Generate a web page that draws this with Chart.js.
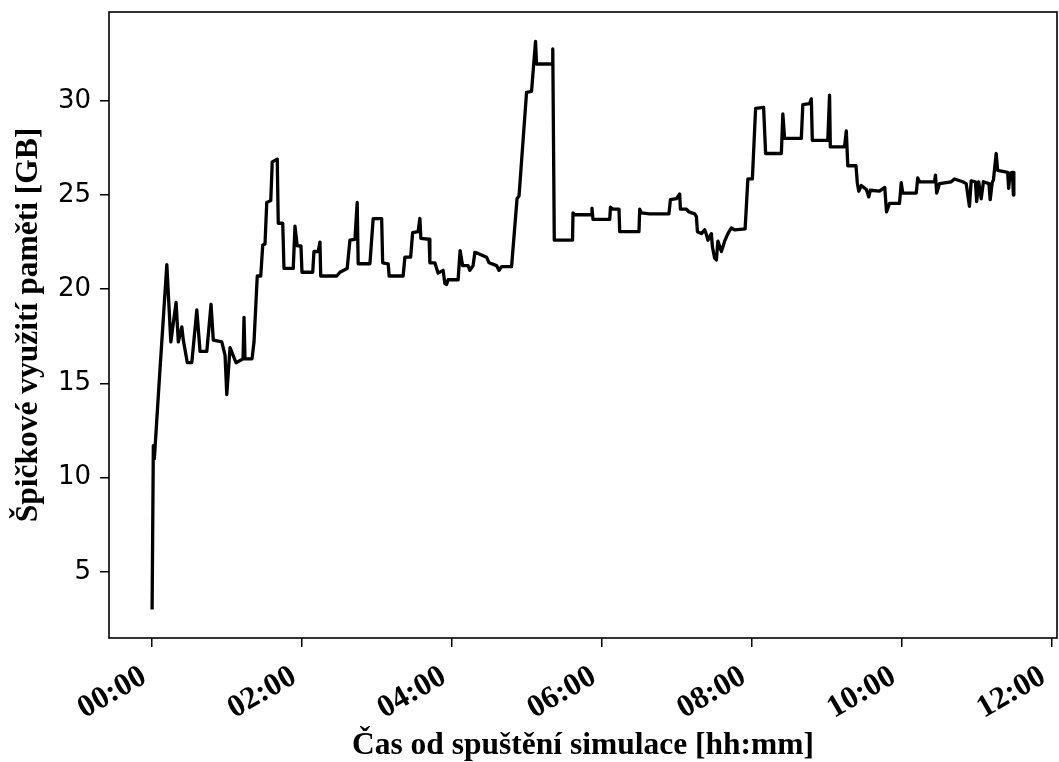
<!DOCTYPE html>
<html>
<head>
<meta charset="utf-8">
<script src="https://cdn.jsdelivr.net/npm/chart.js@4"></script>
<style>
    html, body { margin: 0; padding: 0; background: #fff; }
    #wrap { width: 1059px; height: 762px; }
</style>
</head>
<body>
<div id="wrap"><canvas id="mem-chart" width="1059" height="762"></canvas></div>
<script>
// time since simulation start [min]
const timeMin = [
    0, 1.0, 1.8, 3.8, 5.8, 11.8, 15.0, 19.2, 21.0, 23.8,
    25.0, 28.2, 31.8, 35.8, 38.4, 43.8, 47.2, 49.0, 55.8, 58.4,
    59.8, 62.4, 67.2, 72.8, 73.6, 74.4, 80.0, 81.6, 84.2, 87.0,
    88.6, 90.4, 91.8, 95.0, 96.2, 100.2, 101.0, 104.6, 105.6, 113.0,
    114.4, 116.2, 119.2, 120.0, 128.6, 129.6, 133.0, 134.4, 135.0, 147.8,
    150.4, 156.2, 158.4, 162.4, 164.2, 165.0, 174.4, 177.0, 183.8, 184.6,
    189.0, 189.8, 201.0, 202.4, 207.0, 208.6, 213.0, 214.4, 215.2, 221.8,
    222.4, 226.4, 227.8, 229.0, 233.0, 234.4, 235.8, 237.0, 245.0, 246.6,
    248.6, 253.0, 254.4, 257.0, 258.4, 261.0, 267.8, 269.8, 275.8, 277.8,
    279.8, 287.8, 292.2, 293.8, 299.8, 303.8, 307.0, 307.8, 320.6, 320.8,
    322.0, 336.6, 337.0, 338.4, 351.8, 352.2, 353.0, 366.4, 367.0, 369.0,
    373.8, 374.4, 389.8, 390.4, 391.8, 398.4, 413.8, 415.0, 419.8, 422.4,
    423.0, 427.8, 429.8, 434.4, 435.8, 436.6, 439.8, 442.4, 443.8, 445.0,
    447.8, 448.6, 450.4, 451.8, 453.0, 455.8, 458.4, 461.0, 463.8, 466.4,
    474.8, 477.0, 480.6, 483.2, 489.6, 491.2, 503.8, 505.0, 506.4, 519.8,
    521.0, 526.4, 527.8, 528.6, 541.0, 542.4, 543.0, 554.4, 555.8, 557.0,
    563.6, 564.6, 565.8, 567.8, 571.8, 573.8, 575.0, 582.4, 586.6, 588.0,
    590.4, 598.4, 599.8, 601.0, 611.8, 613.0, 614.4, 626.4, 627.2, 628.2,
    630.4, 639.8, 642.4, 649.0, 651.8, 654.4, 655.8, 659.2, 660.2, 661.8,
    663.8, 665.6, 670.0, 671.0, 672.6, 673.6, 675.8, 677.0, 685.0, 685.8,
    686.9, 688.8, 689.6, 689.9, 690.0
];

// peak memory usage [GB]
const memGB = [
    3.0, 11.7, 11.0, 13.1, 15.2, 21.3, 17.2, 19.3, 17.2, 18.0,
    17.3, 16.1, 16.1, 18.9, 16.7, 16.7, 19.2, 17.3, 17.2, 16.5,
    14.4, 16.9, 16.1, 16.3, 18.5, 16.3, 16.3, 17.2, 20.7, 20.7,
    22.35, 22.4, 24.6, 24.7, 26.75, 26.9, 23.5, 23.5, 21.1, 21.1,
    23.35, 22.3, 22.3, 20.9, 20.9, 22.0, 22.0, 22.5, 20.7, 20.7,
    20.9, 21.1, 22.6, 22.65, 24.6, 21.35, 21.35, 23.75, 23.75, 21.4,
    21.35, 20.7, 20.7, 21.7, 21.7, 23.0, 23.05, 23.75, 22.7, 22.65,
    21.4, 21.4, 21.1, 20.85, 21.0, 20.3, 20.25, 20.5, 20.5, 22.05,
    21.25, 21.25, 21.0, 21.25, 21.95, 21.9, 21.7, 21.4, 21.25, 21.0,
    21.2, 21.2, 24.8, 24.95, 30.45, 30.5, 33.15, 31.95, 31.95, 32.75,
    22.6, 22.6, 24.05, 23.95, 23.95, 24.3, 23.7, 23.7, 24.35, 24.25,
    24.25, 23.05, 23.05, 24.25, 24.05, 24.0, 24.0, 24.75, 24.8, 25.05,
    24.25, 24.25, 24.1, 24.0, 23.85, 23.05, 22.95, 23.15, 22.9, 22.6,
    22.95, 22.25, 21.65, 21.55, 22.55, 22.0, 22.55, 22.95, 23.25, 23.15,
    23.2, 25.85, 25.85, 29.6, 29.65, 27.2, 27.2, 29.3, 28.0, 28.0,
    29.8, 29.85, 30.1, 27.9, 27.9, 30.3, 27.55, 27.55, 28.4, 26.55,
    26.55, 25.65, 25.2, 25.5, 25.3, 24.9, 25.25, 25.2, 25.4, 24.1,
    24.55, 24.55, 25.65, 25.1, 25.1, 25.9, 25.7, 25.7, 26.05, 25.1,
    25.6, 25.7, 25.85, 25.7, 25.6, 24.4, 25.75, 25.7, 24.65, 25.7,
    24.8, 25.7, 25.6, 24.75, 25.65, 25.8, 27.2, 26.3, 26.2, 25.35,
    26.15, 26.2, 25.0, 26.2, 25.6
];

const xTicks = [0, 120, 240, 360, 480, 600, 720];
const yTicks = [5, 10, 15, 20, 25, 30];

const serifBold = {family: "'Liberation Serif', 'Times New Roman', serif", weight: "bold"};

const hhmm = function (minutes) {
    const h = Math.floor(minutes / 60);
    const m = Math.round(minutes % 60);
    return `${String(h).padStart(2, "0")}:${String(m).padStart(2, "0")}`;
};

// box around the plot area, like a matplotlib frame
const framePlugin = {
    id: "frame",
    afterDraw(chart) {
        const {ctx, chartArea: a} = chart;
        ctx.save();
        ctx.strokeStyle = "#000";
        ctx.lineWidth = 1.6;
        ctx.strokeRect(a.left, a.top, a.right - a.left, a.bottom - a.top);
        ctx.restore();
    }
};

const points = timeMin.map((t, i) => ({x: t, y: memGB[i]}));

new Chart(document.getElementById("mem-chart").getContext("2d"), {
    type: "line",
    plugins: [framePlugin],
    data: {
        datasets: [{
            data: points,
            borderColor: "#000",
            borderWidth: 3.3,
            borderJoinStyle: "round",
            pointRadius: 0,
            tension: 0,
            fill: false
        }]
    },
    options: {
        responsive: false,
        animation: false,
        events: [],
        layout: {padding: {top: 12, right: 2, left: 0, bottom: 0}},
        plugins: {legend: {display: false}, tooltip: {enabled: false}},
        scales: {
            x: {
                type: "linear",
                min: -34.5,
                max: 724.5,
                afterBuildTicks: s => { s.ticks = xTicks.map(v => ({value: v})); },
                afterFit: s => {
                    s.height = 124;
                    s.paddingLeft = 0;
                    s.paddingRight = 0;
                },
                border: {display: false},
                grid: {drawOnChartArea: false, drawTicks: true, tickLength: 9, color: "#000", lineWidth: 1.5},
                ticks: {
                    color: "#000",
                    minRotation: 30,
                    maxRotation: 30,
                    padding: 11,
                    labelOffset: -8,
                    font: {...serifBold, size: 31.5},
                    callback: v => hhmm(v)
                },
                title: {
                    display: true,
                    text: "Čas od spuštění simulace [hh:mm]",
                    color: "#000",
                    font: {...serifBold, size: 31.5},
                    padding: {top: 0, bottom: -3}
                }
            },
            y: {
                min: 1.49,
                max: 34.71,
                afterBuildTicks: s => { s.ticks = yTicks.map(v => ({value: v})); },
                afterFit: s => {
                    s.width = 109;
                    s.paddingTop = 0;
                    s.paddingBottom = 0;
                },
                border: {display: false},
                grid: {drawOnChartArea: false, drawTicks: true, tickLength: 9, color: "#000", lineWidth: 1.5},
                ticks: {
                    color: "#000",
                    padding: 9,
                    font: {family: "'DejaVu Sans', sans-serif", size: 26}
                },
                title: {
                    display: true,
                    text: "Špičkové využití paměti [GB]",
                    color: "#000",
                    font: {...serifBold, size: 31.5},
                    padding: {top: 10, bottom: 0}
                }
            }
        }
    }
});
</script>
</body>
</html>
